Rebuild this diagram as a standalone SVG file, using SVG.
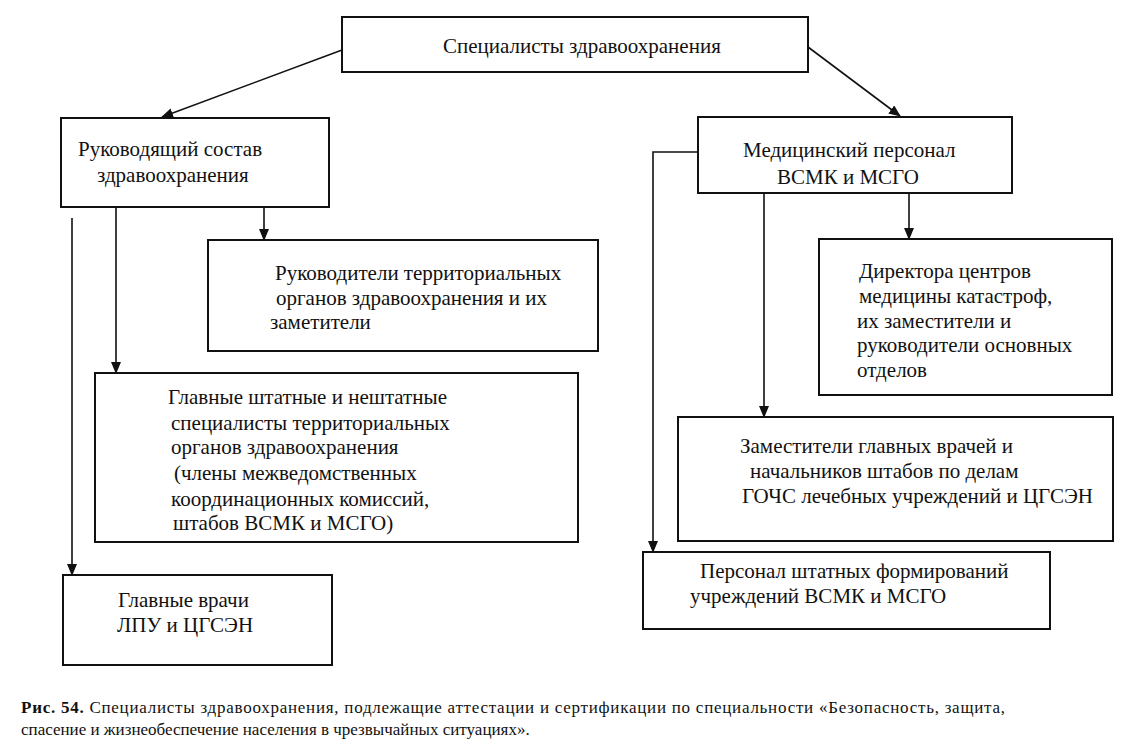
<svg xmlns="http://www.w3.org/2000/svg" width="1133" height="750" viewBox="0 0 1133 750">
<defs>
<marker id="ah" markerWidth="12" markerHeight="10" refX="11" refY="5" orient="auto" markerUnits="userSpaceOnUse">
<path d="M0,0 L12,5 L0,10 Z" fill="#111"/>
</marker>
<style>
.box{fill:#fff;stroke:#111;stroke-width:2}
.t{font-family:"Liberation Serif","Times New Roman",serif;font-size:21px;fill:#111}
.c{font-family:"Liberation Serif","Times New Roman",serif;font-size:17px;fill:#111}
.ln{fill:none;stroke:#111;stroke-width:1.6}
.ar{fill:none;stroke:#111;stroke-width:1.6;marker-end:url(#ah)}
</style>
</defs>
<rect width="1133" height="750" fill="#fff"/>
<g id="connectors">
<line class="ar" x1="342" y1="50" x2="162" y2="117"/>
<line class="ar" x1="808" y1="47" x2="900" y2="116"/>
<line class="ar" x1="264" y1="207" x2="264" y2="240"/>
<line class="ar" x1="116" y1="207" x2="116" y2="373"/>
<line class="ar" x1="72" y1="218" x2="72" y2="575"/>
<line class="ar" x1="909" y1="193" x2="909" y2="239"/>
<line class="ar" x1="764" y1="193" x2="764" y2="417"/>
<polyline class="ar" points="698,152 653,152 653,552"/>
</g>
<g id="n-root">
<rect class="box" x="342" y="17" width="466" height="55"/>
<text class="t" x="443" y="53">Специалисты здравоохранения</text>
</g>
<g id="n-rukovod">
<rect class="box" x="61" y="118" width="268" height="89"/>
<text class="t" x="78" y="156">Руководящий состав</text>
<text class="t" x="97" y="182">здравоохранения</text>
</g>
<g id="n-medpers">
<rect class="box" x="698" y="117" width="314" height="76"/>
<text class="t" x="743" y="157">Медицинский персонал</text>
<text class="t" x="777" y="184">ВСМК и МСГО</text>
</g>
<g id="n-rukterr">
<rect class="box" x="208" y="240" width="390" height="111"/>
<text class="t" x="275" y="280">Руководители территориальных</text>
<text class="t" x="276" y="305">органов здравоохранения и их</text>
<text class="t" x="270" y="329">заметители</text>
</g>
<g id="n-glavspec">
<rect class="box" x="95" y="373" width="483" height="169"/>
<text class="t" x="168" y="404">Главные штатные и нештатные</text>
<text class="t" x="171" y="430">специалисты территориальных</text>
<text class="t" x="171" y="454">органов здравоохранения</text>
<text class="t" x="174" y="480">(члены межведомственных</text>
<text class="t" x="171" y="506">координационных комиссий,</text>
<text class="t" x="173" y="530">штабов ВСМК и МСГО)</text>
</g>
<g id="n-glavvrach">
<rect class="box" x="63" y="575" width="269" height="90"/>
<text class="t" x="118" y="607">Главные врачи</text>
<text class="t" x="117" y="632">ЛПУ и ЦГСЭН</text>
</g>
<g id="n-direktora">
<rect class="box" x="819" y="239" width="293" height="156"/>
<text class="t" x="859" y="278">Директора центров</text>
<text class="t" x="859" y="303">медицины катастроф,</text>
<text class="t" x="857" y="328">их заместители и</text>
<text class="t" x="857" y="352">руководители основных</text>
<text class="t" x="857" y="377">отделов</text>
</g>
<g id="n-zam">
<rect class="box" x="678" y="417" width="435" height="124"/>
<text class="t" x="740" y="453">Заместители главных врачей и</text>
<text class="t" x="750" y="478">начальников штабов по делам</text>
<text class="t" x="742" y="503">ГОЧС лечебных учреждений и ЦГСЭН</text>
</g>
<g id="n-personal">
<rect class="box" x="643" y="552" width="407" height="77"/>
<text class="t" x="700" y="578">Персонал штатных формирований</text>
<text class="t" x="690" y="603">учреждений ВСМК и МСГО</text>
</g>
<g id="caption">
<text class="c" x="21" y="713" textLength="984" lengthAdjust="spacing"><tspan font-weight="bold">Рис. 54.</tspan> Специалисты здравоохранения, подлежащие аттестации и сертификации по специальности «Безопасность, защита,</text>
<text class="c" x="21" y="735">спасение и жизнеобеспечение населения в чрезвычайных ситуациях».</text>
</g>
</svg>
